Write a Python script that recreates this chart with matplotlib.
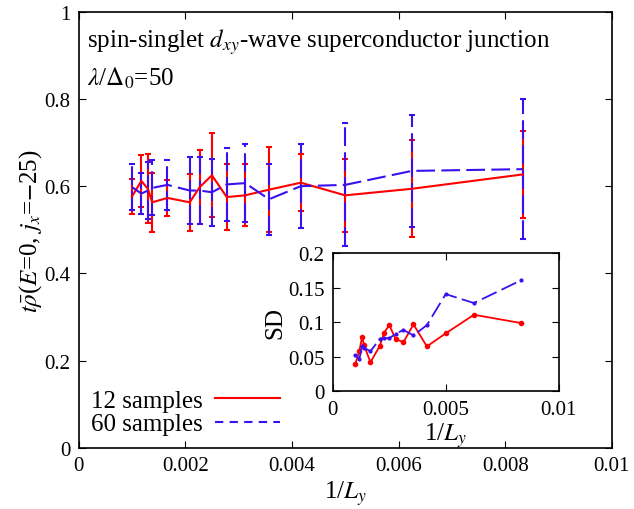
import matplotlib
matplotlib.use('Agg')
from matplotlib import pyplot as plt

plt.rcParams['font.family'] = ['Liberation Serif', 'DejaVu Serif']
plt.rcParams['mathtext.fontset'] = 'stix'
plt.rcParams['font.size'] = 15

# 1/L_y
inv_ly = [1 / 1000, 1 / 850, 1 / 770, 1 / 725, 1 / 600, 1 / 480, 1 / 440, 1 / 400,
          1 / 360, 1 / 320, 1 / 280, 1 / 240, 1 / 200, 1 / 160, 1 / 120]

# mean density, 12 samples / 60 samples
mean_12 = [0.576, 0.612, 0.594, 0.563, 0.573, 0.563, 0.598, 0.625,
           0.575, 0.579, 0.592, 0.608, 0.579, 0.594, 0.627]
mean_60 = [0.598, 0.583, 0.590, 0.596, 0.603, 0.590, 0.590, 0.586,
           0.604, 0.607, 0.570, 0.600, 0.603, 0.635, 0.639]

# standard deviation (also the error bars)
sd_12 = [0.040, 0.059, 0.079, 0.067, 0.042, 0.066, 0.085, 0.096,
         0.076, 0.071, 0.097, 0.065, 0.084, 0.111, 0.099]
sd_60 = [0.052, 0.047, 0.066, 0.063, 0.058, 0.076, 0.077, 0.077,
         0.083, 0.089, 0.081, 0.096, 0.141, 0.128, 0.161]

red = '#ff0000'
blue = '#3a10f0'
dash = (0, (9, 3))
big = 18


def style_axes(ax):
    ax.tick_params(direction='in', top=True, right=True, length=5, width=0.8, pad=6)
    for s in ax.spines.values():
        s.set_linewidth(1.2)


fig = plt.figure(figsize=(6.34, 5.10), dpi=100)
ax = fig.add_axes([0.124, 0.12, 0.841, 0.855])

eb1 = ax.errorbar(inv_ly, mean_12, yerr=sd_12, color=red, lw=1.5, elinewidth=1.5,
                  capsize=2.5, capthick=1.5)
eb2 = ax.errorbar(inv_ly, mean_60, yerr=sd_60, color=blue, lw=1.5, elinewidth=1.5,
                  capsize=2.5, capthick=1.5, ls=dash)
eb2[-1][0].set_linestyle(dash)

ax.set_xlim(0, 0.01)
ax.set_ylim(0, 1)
ax.set_xticks([0, 0.002, 0.004, 0.006, 0.008, 0.01])
ax.set_xticklabels(['0', '0.002', '0.004', '0.006', '0.008', '0.01'])
ax.set_yticks([0, 0.2, 0.4, 0.6, 0.8, 1])
ax.set_yticklabels(['0', '0.2', '0.4', '0.6', '0.8', '1'])
style_axes(ax)
ax.set_xlabel(r'1/$L_y$', fontsize=big, labelpad=2)
ax.set_ylabel(r'$t\bar{\rho}$($E$=0, $j_x$=$-$25)', fontsize=big, labelpad=0)

ax.text(0.015, 0.968, r'spin-singlet $d_{xy}$-wave superconductor junction',
        transform=ax.transAxes, va='top', ha='left', fontsize=big)
ax.text(0.015, 0.878, r'$\lambda$/$\Delta_0$=50', transform=ax.transAxes,
        va='top', ha='left', fontsize=big)

h1 = plt.Line2D([], [], color=red, lw=1.5)
h2 = plt.Line2D([], [], color=blue, lw=1.5, ls=(0, (4, 3)))
ax.legend([h1, h2], ['12 samples', '60 samples'], loc='lower left',
          bbox_to_anchor=(0.0, 0.0), frameon=False, markerfirst=False,
          fontsize=big, handlelength=2.6, handletextpad=0.5, labelspacing=0.05,
          borderaxespad=0.1)

ins = fig.add_axes([0.525, 0.231, 0.356, 0.270])
ins.plot(inv_ly, sd_12, color=red, lw=1.3, marker='o', ms=3)
ins.plot(inv_ly, sd_60, color=blue, lw=1.3, ls=dash, marker='o', ms=2)
ins.set_xlim(0, 0.01)
ins.set_ylim(0, 0.2)
ins.set_xticks([0, 0.005, 0.01])
ins.set_xticklabels(['0', '0.005', '0.01'])
ins.set_yticks([0, 0.05, 0.1, 0.15, 0.2])
ins.set_yticklabels(['0', '0.05', '0.1', '0.15', '0.2'])
style_axes(ins)
ins.set_xlabel(r'1/$L_y$', fontsize=big, labelpad=1)
ins.set_ylabel('SD', fontsize=big, labelpad=1)

plt.savefig('out.png', dpi=100)
